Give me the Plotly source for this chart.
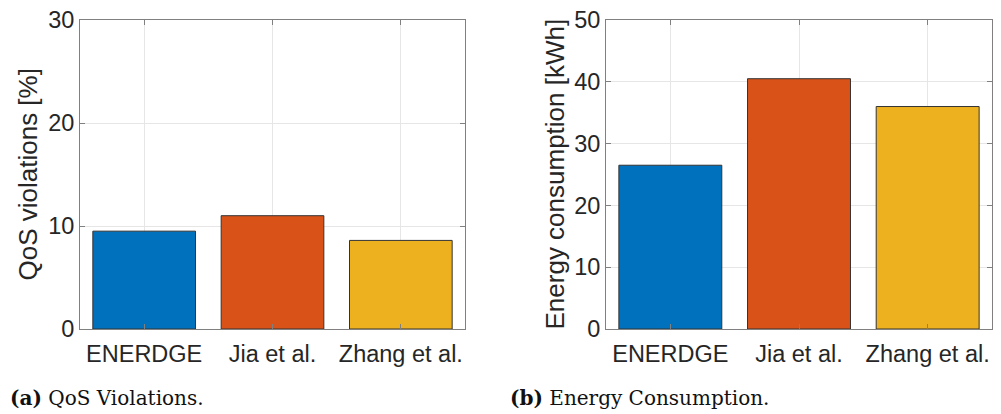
import plotly.graph_objects as go

methods = ["ENERDGE", "Jia et al.", "Zhang et al."]
qos_violations = [9.5, 11.0, 8.6]
energy_kwh = [26.5, 40.5, 36.0]
bar_colors = ["#0072BD", "#D95319", "#EDB120"]
qos_ticks = [0, 10, 20, 30]
energy_ticks = [0, 10, 20, 30, 40, 50]

W, H = 1001, 414
fig = go.Figure()

fig.add_trace(go.Bar(x=methods, y=qos_violations, marker=dict(color=bar_colors, line=dict(color="#333333", width=1)),
                     width=0.8, xaxis="x", yaxis="y", showlegend=False))
fig.add_trace(go.Bar(x=methods, y=energy_kwh, marker=dict(color=bar_colors, line=dict(color="#333333", width=1)),
                     width=0.8, xaxis="x2", yaxis="y2", showlegend=False))

font = dict(family="Liberation Sans, Arial", size=23.5, color="#262626")
title_font = dict(family="Liberation Sans, Arial", size=26, color="#262626")
axis_common = dict(showline=True, linecolor="#808080", linewidth=1, mirror="ticks",
                   ticks="inside", ticklen=5, tickcolor="#808080",
                   showgrid=True, gridcolor="#e6e6e6", gridwidth=1, zeroline=False,
                   tickfont=font, automargin=False)

ybot = 1 - 329 / H
ytop = 1 - 20 / H
fig.update_layout(
    width=W, height=H, margin=dict(l=0, r=0, t=0, b=0, autoexpand=False),
    paper_bgcolor="white", plot_bgcolor="white",
    xaxis=dict(domain=[80 / W, 465 / W], anchor="y", range=[-0.5, 2.5], ticklabelstandoff=4, **axis_common),
    yaxis=dict(domain=[ybot, ytop], anchor="x", range=[0, 30], tickvals=qos_ticks, **axis_common),
    xaxis2=dict(domain=[606 / W, 992 / W], anchor="y2", range=[-0.5, 2.5], ticklabelstandoff=4, **axis_common),
    yaxis2=dict(domain=[ybot, ytop], anchor="x2", range=[0, 50], tickvals=energy_ticks, **axis_common),
    bargap=0.2,
)

ymid = (ybot + ytop) / 2
fig.add_annotation(text="QoS violations [%]", x=27 / W, y=ymid, xref="paper", yref="paper",
                   textangle=-90, showarrow=False, font=title_font, xanchor="center", yanchor="middle")
fig.add_annotation(text="Energy consumption [kWh]", x=554 / W, y=ymid, xref="paper", yref="paper",
                   textangle=-90, showarrow=False, font=title_font, xanchor="center", yanchor="middle")

cap_font = dict(family="DejaVu Serif, serif", size=20, color="#111111")
fig.add_annotation(text="<b>(a)</b> QoS Violations.", x=8 / W, y=1 - 398 / H, xref="paper", yref="paper",
                   showarrow=False, font=cap_font, xanchor="left", yanchor="middle")
fig.add_annotation(text="<b>(b)</b> Energy Consumption.", x=508 / W, y=1 - 398 / H, xref="paper", yref="paper",
                   showarrow=False, font=cap_font, xanchor="left", yanchor="middle")

fig.write_html("out.html")
